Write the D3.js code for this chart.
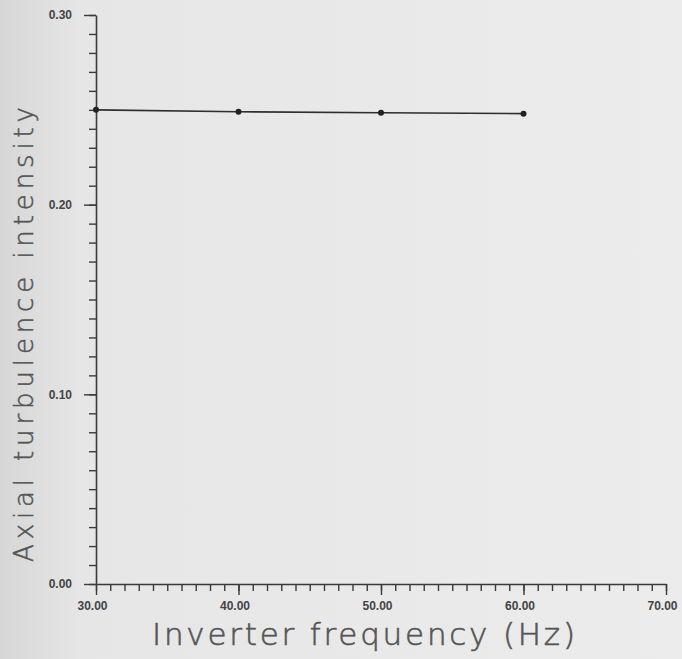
<!DOCTYPE html>
<html>
<head>
<meta charset="utf-8">
<script src="https://cdn.jsdelivr.net/npm/d3@7"></script>
<style>
  body { margin: 0; background: #ebebeb; }
  svg { display: block; }
</style>
</head>
<body>
<div id="chart"></div>
<script>
// Data
const freq = [30, 40, 50, 60];                 // Inverter frequency (Hz)
const intensity = [0.250, 0.249, 0.2485, 0.248]; // Axial turbulence intensity
const xMajor = [30, 40, 50, 60, 70];
const yMajor = [0.00, 0.10, 0.20, 0.30];

const W = 682, H = 659;

const svg = d3.select("#chart")
  .append("svg")
  .attr("width", W)
  .attr("height", H);

// paper background, a bit darker towards the left edge
const grad = svg.append("defs").append("linearGradient")
  .attr("id", "paper")
  .attr("x1", "0").attr("x2", "1").attr("y1", "0").attr("y2", "0");
grad.append("stop").attr("offset", "0").attr("stop-color", "#d6d6d6");
grad.append("stop").attr("offset", "0.12").attr("stop-color", "#e6e6e6");
grad.append("stop").attr("offset", "1").attr("stop-color", "#ececec");
svg.append("rect")
  .attr("width", W).attr("height", H)
  .attr("fill", "url(#paper)");

// Scales
const x = d3.scaleLinear().domain([30, 70]).range([96, 666]);
const y = d3.scaleLinear().domain([0, 0.30]).range([584, 15]);

const ink = "#3a3a3a";

// X axis: minor ticks every 1 Hz, major every 10 Hz
svg.append("g")
  .attr("transform", `translate(0,${y(0)})`)
  .call(d3.axisBottom(x).tickValues(d3.range(30, 71, 1)).tickSize(7).tickSizeOuter(0).tickFormat(""))
  .call(g => g.select(".domain").attr("stroke", ink).attr("stroke-width", 1.6));

svg.append("g")
  .attr("transform", `translate(0,${y(0)})`)
  .call(d3.axisBottom(x).tickValues(xMajor).tickSize(11).tickPadding(6).tickFormat(d3.format(".2f")))
  .call(g => g.select(".domain").remove())
  .call(g => g.selectAll("text")
    .attr("fill", "#444")
    .attr("font-family", "Liberation Sans, Arial, sans-serif")
    .attr("font-weight", "bold")
    .attr("font-size", 12)
    .attr("dx", -4));

// Y axis: minor ticks every 0.01, major every 0.10
svg.append("g")
  .attr("transform", `translate(${x(30)},0)`)
  .call(d3.axisLeft(y).tickValues(d3.range(0, 31, 1).map(d => d / 100)).tickSize(7).tickSizeOuter(0).tickFormat(""))
  .call(g => g.select(".domain").attr("stroke", ink).attr("stroke-width", 1.6));

svg.append("g")
  .attr("transform", `translate(${x(30)},0)`)
  .call(d3.axisLeft(y).tickValues(yMajor).tickSize(12).tickPadding(12).tickFormat(d3.format(".2f")))
  .call(g => g.select(".domain").remove())
  .call(g => g.selectAll("text")
    .attr("fill", "#444")
    .attr("font-family", "Liberation Sans, Arial, sans-serif")
    .attr("font-weight", "bold")
    .attr("font-size", 12));

svg.selectAll(".tick line")
  .attr("stroke", ink)
  .attr("stroke-width", 1.4);

// Data line and points
const line = d3.line()
  .x((d, i) => x(freq[i]))
  .y(d => y(d));

svg.append("path")
  .datum(intensity)
  .attr("fill", "none")
  .attr("stroke", "#2e2e2e")
  .attr("stroke-width", 1.6)
  .attr("d", line);

svg.selectAll(".pt")
  .data(intensity)
  .enter()
  .append("circle")
  .attr("class", "pt")
  .attr("cx", (d, i) => x(freq[i]))
  .attr("cy", d => y(d))
  .attr("r", 3)
  .attr("fill", "#222");

// Axis titles
svg.append("text")
  .attr("x", 152)
  .attr("y", 645)
  .attr("textLength", 423)
  .attr("lengthAdjust", "spacing")
  .attr("fill", "#555")
  .attr("stroke", "#555")
  .attr("stroke-width", 0.6)
  .attr("font-family", "'DejaVu Sans', sans-serif")
  .attr("font-weight", 200)
  .attr("font-size", 31)
  .text("Inverter frequency (Hz)");

svg.append("text")
  .attr("transform", "translate(33,562) rotate(-90)")
  .attr("textLength", 455)
  .attr("lengthAdjust", "spacing")
  .attr("fill", "#555")
  .attr("stroke", "#555")
  .attr("stroke-width", 0.5)
  .attr("font-family", "'DejaVu Sans', sans-serif")
  .attr("font-weight", 200)
  .attr("font-size", 26)
  .text("Axial turbulence intensity");
</script>
</body>
</html>
